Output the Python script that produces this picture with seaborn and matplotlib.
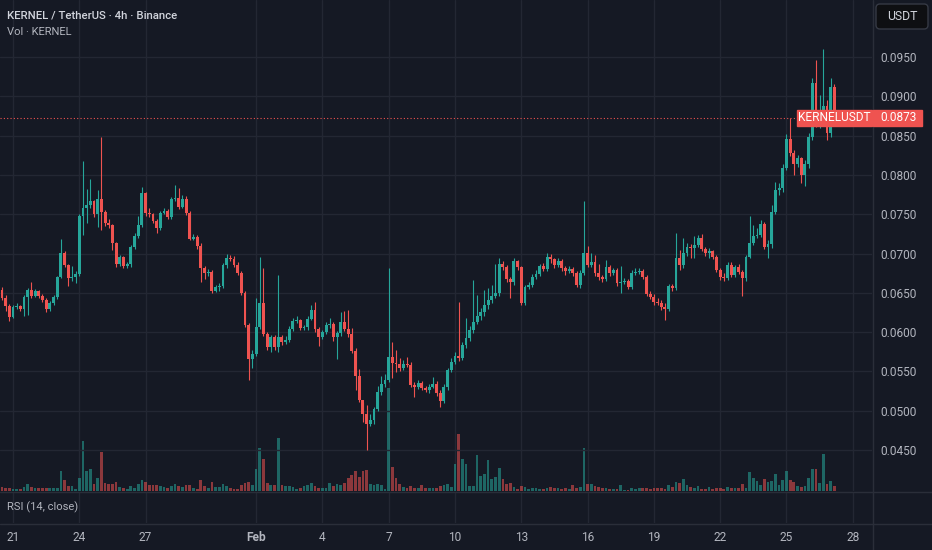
import numpy as np
import pandas as pd
import seaborn as sns
import matplotlib.pyplot as plt
import matplotlib.dates as mdates
from matplotlib.patches import FancyBboxPatch, Rectangle
from matplotlib.lines import Line2D
from matplotlib.transforms import IdentityTransform

# KERNEL/USDT 4h candles, Jan 20 12:00 -> Feb 27 00:00
first_open = 0.06536
closes = [
    0.06434, 0.06333, 0.06193, 0.06320, 0.06333, 0.06295, 0.06447, 0.06536, 0.06460, 0.06524,
    0.06460, 0.06409, 0.06295, 0.06371, 0.06447, 0.06702, 0.07007, 0.06854, 0.06689, 0.06702,
    0.06740, 0.07477, 0.07579, 0.07617, 0.07668, 0.07503, 0.07694, 0.07528, 0.07389, 0.07363,
    0.07134, 0.06867, 0.06956, 0.06841, 0.06867, 0.07083, 0.07223, 0.07363, 0.07770, 0.07516,
    0.07503, 0.07414, 0.07325, 0.07516, 0.07541, 0.07465, 0.07694, 0.07706, 0.07592, 0.07694,
    0.07516, 0.07185, 0.07210, 0.07096, 0.06816, 0.06752, 0.06765, 0.06524, 0.06574, 0.06587,
    0.06854, 0.06943, 0.06931, 0.06854, 0.06752, 0.06498, 0.06091, 0.05659, 0.05722, 0.06066,
    0.06371, 0.05977, 0.05811, 0.05938, 0.05811, 0.05938, 0.05875, 0.05900, 0.06040, 0.06142,
    0.06155, 0.06053, 0.06066, 0.06167, 0.06282, 0.06040, 0.05938, 0.06002, 0.06091, 0.06104,
    0.05938, 0.05989, 0.06129, 0.06040, 0.05977, 0.05761, 0.05442, 0.05137, 0.04959, 0.04832,
    0.04883, 0.05023, 0.05239, 0.05341, 0.05391, 0.05684, 0.05608, 0.05595, 0.05544, 0.05595,
    0.05582, 0.05328, 0.05302, 0.05353, 0.05290, 0.05264, 0.05302, 0.05341, 0.05226, 0.05124,
    0.05302, 0.05519, 0.05620, 0.05697, 0.05671, 0.05837, 0.05926, 0.06027, 0.06129, 0.06205,
    0.06256, 0.06345, 0.06409, 0.06460, 0.06498, 0.06867, 0.06829, 0.06676, 0.06638, 0.06905,
    0.06829, 0.06371, 0.06574, 0.06600, 0.06702, 0.06740, 0.06841, 0.06803, 0.06956, 0.06931,
    0.06854, 0.06905, 0.06816, 0.06778, 0.06803, 0.06752, 0.06600, 0.06752, 0.07007, 0.06854,
    0.06892, 0.06752, 0.06702, 0.06676, 0.06829, 0.06752, 0.06791, 0.06625, 0.06638, 0.06651,
    0.06574, 0.06752, 0.06765, 0.06778, 0.06702, 0.06485, 0.06447, 0.06384, 0.06371, 0.06320,
    0.06295, 0.06587, 0.06562, 0.06943, 0.06854, 0.07007, 0.07083, 0.07070, 0.07109, 0.07198,
    0.07058, 0.07007, 0.07032, 0.06956, 0.06791, 0.06702, 0.06689, 0.06854, 0.06727, 0.06829,
    0.06765, 0.06689, 0.06956, 0.07134, 0.07223, 0.07236, 0.07376, 0.07083, 0.07121, 0.07528,
    0.07808, 0.07834, 0.08088, 0.08457, 0.08279, 0.08139, 0.08215, 0.07999, 0.08139, 0.08482,
    0.09169, 0.08660, 0.08826, 0.08877, 0.08533, 0.09118, 0.08730,
]
highs = [
    0.06574, 0.06473, 0.06358, 0.06345, 0.06371, 0.06345, 0.06473, 0.06562, 0.06638, 0.06549,
    0.06536, 0.06485, 0.06434, 0.06396, 0.06473, 0.06714, 0.07185, 0.07032, 0.06867, 0.06841,
    0.06778, 0.07503, 0.08177, 0.07821, 0.07948, 0.07681, 0.07808, 0.08482, 0.07554, 0.07439,
    0.07376, 0.07147, 0.06981, 0.06969, 0.06892, 0.07109, 0.07261, 0.07477, 0.07846, 0.07783,
    0.07579, 0.07516, 0.07439, 0.07541, 0.07579, 0.07567, 0.07719, 0.07872, 0.07834, 0.07745,
    0.07732, 0.07541, 0.07248, 0.07236, 0.07134, 0.06841, 0.06803, 0.06791, 0.06600, 0.06625,
    0.06880, 0.06994, 0.06981, 0.06969, 0.06892, 0.06778, 0.06524, 0.06117, 0.05773, 0.06434,
    0.06956, 0.06816, 0.06002, 0.05964, 0.05964, 0.06727, 0.05964, 0.05951, 0.06078, 0.06180,
    0.06205, 0.06167, 0.06091, 0.06205, 0.06345, 0.06384, 0.06066, 0.06027, 0.06129, 0.06180,
    0.06129, 0.06015, 0.06256, 0.06269, 0.06282, 0.06053, 0.05799, 0.05531, 0.05112, 0.05073,
    0.04959, 0.05048, 0.05315, 0.05442, 0.05468, 0.06816, 0.05875, 0.05773, 0.05671, 0.05646,
    0.05684, 0.05620, 0.05366, 0.05391, 0.05379, 0.05315, 0.05341, 0.05430, 0.05379, 0.05264,
    0.05341, 0.05544, 0.05671, 0.05748, 0.06384, 0.05875, 0.06180, 0.06078, 0.06663, 0.06473,
    0.06307, 0.06536, 0.06562, 0.06600, 0.06867, 0.06943, 0.06905, 0.06854, 0.06702, 0.06943,
    0.06918, 0.06841, 0.06600, 0.06638, 0.06740, 0.06791, 0.06867, 0.06880, 0.07007, 0.06994,
    0.06943, 0.06943, 0.06931, 0.06841, 0.06841, 0.06829, 0.06778, 0.06791, 0.07668, 0.07096,
    0.07007, 0.06981, 0.06867, 0.06727, 0.06918, 0.06854, 0.06816, 0.06816, 0.06841, 0.06689,
    0.06676, 0.06791, 0.06816, 0.06816, 0.06803, 0.06727, 0.06524, 0.06485, 0.06434, 0.06409,
    0.06371, 0.06613, 0.06613, 0.07261, 0.07045, 0.07198, 0.07134, 0.07121, 0.07223, 0.07236,
    0.07248, 0.07083, 0.07070, 0.07045, 0.06981, 0.06816, 0.06752, 0.06892, 0.06892, 0.06854,
    0.06867, 0.06791, 0.06981, 0.07477, 0.07363, 0.07325, 0.07427, 0.07401, 0.07172, 0.07617,
    0.07910, 0.07897, 0.08139, 0.08521, 0.08724, 0.08317, 0.08253, 0.08228, 0.08190, 0.08533,
    0.09233, 0.09462, 0.09017, 0.09602, 0.08953, 0.09233, 0.09157,
]
lows = [
    0.06409, 0.06269, 0.06142, 0.06180, 0.06295, 0.06269, 0.06205, 0.06218, 0.06434, 0.06447,
    0.06434, 0.06384, 0.06256, 0.06269, 0.06345, 0.06422, 0.06689, 0.06829, 0.06587, 0.06651,
    0.06625, 0.06714, 0.07236, 0.07389, 0.07579, 0.07465, 0.07338, 0.07299, 0.07350, 0.07325,
    0.07045, 0.06829, 0.06841, 0.06816, 0.06816, 0.06829, 0.07058, 0.07198, 0.07338, 0.07477,
    0.07465, 0.07389, 0.07261, 0.07299, 0.07503, 0.07439, 0.07439, 0.07668, 0.07567, 0.07579,
    0.07490, 0.07172, 0.07172, 0.07058, 0.06638, 0.06676, 0.06714, 0.06498, 0.06511, 0.06524,
    0.06562, 0.06816, 0.06905, 0.06829, 0.06727, 0.06473, 0.06066, 0.05391, 0.05544, 0.05697,
    0.06040, 0.05951, 0.05773, 0.05748, 0.05773, 0.05748, 0.05837, 0.05849, 0.05875, 0.06015,
    0.06117, 0.06027, 0.06027, 0.06027, 0.06155, 0.06002, 0.05824, 0.05913, 0.05977, 0.06053,
    0.05888, 0.05659, 0.05951, 0.06015, 0.05938, 0.05735, 0.05264, 0.05112, 0.04857, 0.04501,
    0.04806, 0.04832, 0.04997, 0.05201, 0.05302, 0.05366, 0.05417, 0.05493, 0.05506, 0.05519,
    0.05557, 0.05302, 0.05175, 0.05277, 0.05264, 0.05239, 0.05226, 0.05290, 0.05188, 0.05048,
    0.05099, 0.05264, 0.05493, 0.05595, 0.05633, 0.05646, 0.05799, 0.05888, 0.05989, 0.06104,
    0.06155, 0.06205, 0.06295, 0.06371, 0.06434, 0.06460, 0.06791, 0.06638, 0.06434, 0.06600,
    0.06791, 0.06345, 0.06345, 0.06549, 0.06574, 0.06676, 0.06714, 0.06778, 0.06778, 0.06880,
    0.06816, 0.06829, 0.06778, 0.06727, 0.06752, 0.06714, 0.06574, 0.06562, 0.06727, 0.06829,
    0.06829, 0.06714, 0.06663, 0.06638, 0.06651, 0.06714, 0.06727, 0.06587, 0.06498, 0.06613,
    0.06549, 0.06549, 0.06727, 0.06740, 0.06676, 0.06460, 0.06422, 0.06345, 0.06345, 0.06282,
    0.06155, 0.06269, 0.06524, 0.06536, 0.06791, 0.06816, 0.06969, 0.06943, 0.06943, 0.07083,
    0.07032, 0.06969, 0.06943, 0.06931, 0.06765, 0.06663, 0.06651, 0.06663, 0.06702, 0.06702,
    0.06740, 0.06460, 0.06651, 0.06943, 0.07109, 0.07198, 0.07210, 0.07058, 0.06943, 0.07070,
    0.07503, 0.07745, 0.07783, 0.08063, 0.08241, 0.07999, 0.08101, 0.07897, 0.07859, 0.08088,
    0.08444, 0.08610, 0.08597, 0.08699, 0.08444, 0.08482, 0.08686,
]
# volume, million KERNEL
volumes = [
    4, 3, 3, 2, 2, 2, 4, 7, 4, 3,
    3, 3, 3, 3, 3, 3, 20, 11, 5, 5,
    2, 13, 50, 20, 22, 7, 13, 39, 8, 7,
    7, 9, 4, 3, 2, 5, 3, 7, 11, 9,
    6, 6, 6, 5, 4, 3, 5, 7, 5, 4,
    6, 6, 3, 2, 11, 5, 3, 9, 4, 4,
    7, 5, 3, 2, 2, 6, 8, 9, 6, 22,
    43, 32, 8, 6, 6, 53, 6, 5, 5, 4,
    2, 3, 5, 6, 8, 5, 3, 3, 3, 8,
    5, 7, 6, 8, 13, 16, 20, 14, 20, 21,
    7, 6, 7, 6, 2, 103, 24, 13, 7, 4,
    3, 5, 3, 3, 6, 3, 3, 3, 3, 5,
    6, 7, 4, 27, 57, 32, 27, 5, 5, 36,
    15, 17, 31, 12, 14, 23, 12, 7, 8, 4,
    2, 5, 4, 2, 3, 3, 2, 2, 3, 4,
    3, 3, 2, 3, 2, 6, 3, 4, 43, 7,
    7, 5, 4, 3, 3, 2, 2, 2, 6, 1,
    1, 3, 2, 3, 3, 3, 2, 3, 3, 3,
    2, 6, 4, 9, 8, 12, 6, 4, 3, 5,
    2, 2, 4, 2, 3, 3, 2, 4, 3, 3,
    3, 7, 3, 19, 13, 10, 6, 12, 9, 10,
    17, 6, 11, 20, 11, 9, 5, 4, 5, 13,
    22, 22, 8, 37, 7, 10, 5,
]
last_price = 0.0873

price_ticks = [0.045, 0.050, 0.055, 0.060, 0.065, 0.070, 0.075, 0.080, 0.085, 0.090, 0.095]
date_ticks = ["2025-01-21", "2025-01-24", "2025-01-27", "2025-02-01", "2025-02-04",
              "2025-02-07", "2025-02-10", "2025-02-13", "2025-02-16", "2025-02-19",
              "2025-02-22", "2025-02-25", "2025-02-28"]
date_labels = ["21", "24", "27", "Feb", "4", "7", "10", "13", "16", "19", "22", "25", "28"]

BG = "#151924"
GRID = "#232733"
SEP = "#2a2e39"
UP = "#26a69a"
DOWN = "#ef5350"
TXT = "#b2b5be"
W, H = 932, 550

sns.set_theme(style="dark", rc={"figure.facecolor": BG, "axes.facecolor": BG,
                                "savefig.facecolor": BG, "grid.color": GRID})
plt.rcParams['font.family'] = ['Roboto', 'DejaVu Sans']

df = pd.DataFrame({
    "time": pd.date_range("2025-01-20 12:00", periods=len(closes), freq="4h"),
    "close": closes, "high": highs, "low": lows, "volume": volumes,
})
df["open"] = [first_open] + closes[:-1]
df["up"] = df["close"] >= df["open"]
x = mdates.date2num(df["time"])
step = 4 / 24


def rect(x0, y0, x1, y1):
    return [x0 / W, 1 - y1 / H, (x1 - x0) / W, (y1 - y0) / H]


fig = plt.figure(figsize=(W / 100, H / 100), dpi=100)
vol_ax = fig.add_axes(rect(0, 0, 872, 491))
ax = fig.add_axes(rect(0, 0, 872, 491), sharex=vol_ax)
rsi_ax = fig.add_axes(rect(0, 492, 872, 523), sharex=vol_ax)
ax.patch.set_alpha(0)

t0 = mdates.date2num(pd.Timestamp("2025-01-21"))
vol_ax.set_xlim(t0 - 0.588, t0 + 38.87)

# volume
vcol = np.where(df["up"], UP, DOWN)
vol_ax.bar(x, df["volume"], width=step * 0.74, color=vcol, alpha=0.55, linewidth=0)
vol_ax.set_ylim(0, df["volume"].max() * 4.77)

# candles
ccol = np.where(df["up"], UP, DOWN)
ax.vlines(x, df["low"], df["high"], colors=ccol, linewidth=0.8, zorder=3)
body_lo = np.minimum(df["open"], df["close"])
body_h = np.maximum(np.abs(df["close"] - df["open"]), 0.00012)
ax.bar(x, body_h, bottom=body_lo, width=step * 0.78, color=ccol, linewidth=0, zorder=4)
ax.set_ylim(0.03979, 0.10225)

ticks = mdates.date2num(pd.to_datetime(date_ticks))
rsi_ax.set_xticks(ticks)
rsi_ax.set_xticklabels(date_labels)
for lab in rsi_ax.get_xticklabels():
    if lab.get_text() == "Feb":
        lab.set_fontweight("bold")

for a in (vol_ax, ax, rsi_ax):
    for s in a.spines.values():
        s.set_visible(False)
    a.tick_params(length=0)
vol_ax.set_yticks([])
vol_ax.tick_params(labelbottom=False)
ax.tick_params(labelbottom=False)
rsi_ax.set_yticks([])
rsi_ax.tick_params(axis="x", colors=TXT, labelsize=8.6, pad=5.5)
vol_ax.grid(axis="x", color=GRID, linewidth=1)
rsi_ax.grid(axis="x", color=GRID, linewidth=1)
vol_ax.set_axisbelow(True)

ax.yaxis.tick_right()
ax.set_yticks(price_ticks)
ax.set_yticklabels([f"{p:.4f}" for p in price_ticks])
ax.tick_params(axis="y", colors=TXT, labelsize=8.6, pad=5.8)
ax.grid(axis="y", color=GRID, linewidth=1)
ax.grid(axis="x", visible=False)
ax.set_axisbelow(True)

# last price line and tags
ax.axhline(last_price, xmin=0, xmax=797 / 872, color=DOWN, linewidth=0.8,
           linestyle=(0, (1, 2)), zorder=2)
fig.canvas.draw()
yp = ax.transData.transform((0, last_price))[1]
ident = IdentityTransform()
fig.add_artist(Rectangle((797, yp - 8), 75, 16, transform=ident, color=DOWN, zorder=5))
fig.add_artist(Rectangle((873, yp - 8), 49, 16, transform=ident, color=DOWN, zorder=5))
fig.text(834.5, yp, "KERNELUSDT", transform=ident, color="white", fontsize=8.6,
         ha="center", va="center", zorder=6)
fig.text(880, yp, f"{last_price:.4f}", transform=ident, color="white", fontsize=8.6,
         ha="left", va="center", zorder=6)

# USDT box
fig.add_artist(FancyBboxPatch((876, H - 29), 52, 25, boxstyle="round,pad=0,rounding_size=4",
                              transform=ident, facecolor="#0e0f12", edgecolor="#363a45",
                              linewidth=1, zorder=5))
fig.text(902, H - 16.5, "USDT", transform=ident, color="#d1d4dc", fontsize=8.8,
         ha="center", va="center", zorder=6)

# pane separators
for yy in (491.5, 523.5):
    fig.add_artist(Line2D([0, 1], [1 - yy / H, 1 - yy / H], color=SEP, linewidth=1))
fig.add_artist(Line2D([872.5 / W, 872.5 / W], [0, 1], color=SEP, linewidth=1))

fig.text(7 / W, 1 - 15.5 / H, "KERNEL / TetherUS · 4h · Binance", color="#d1d4dc",
         fontsize=8.2, fontweight="medium", va="center")
fig.text(7 / W, 1 - 32 / H, "Vol · KERNEL", color=TXT, fontsize=8.0, va="center")
fig.text(7 / W, 1 - 507 / H, "RSI (14, close)", color=TXT, fontsize=8.0, va="center")

fig.savefig("out.png", dpi=100, facecolor=BG)
